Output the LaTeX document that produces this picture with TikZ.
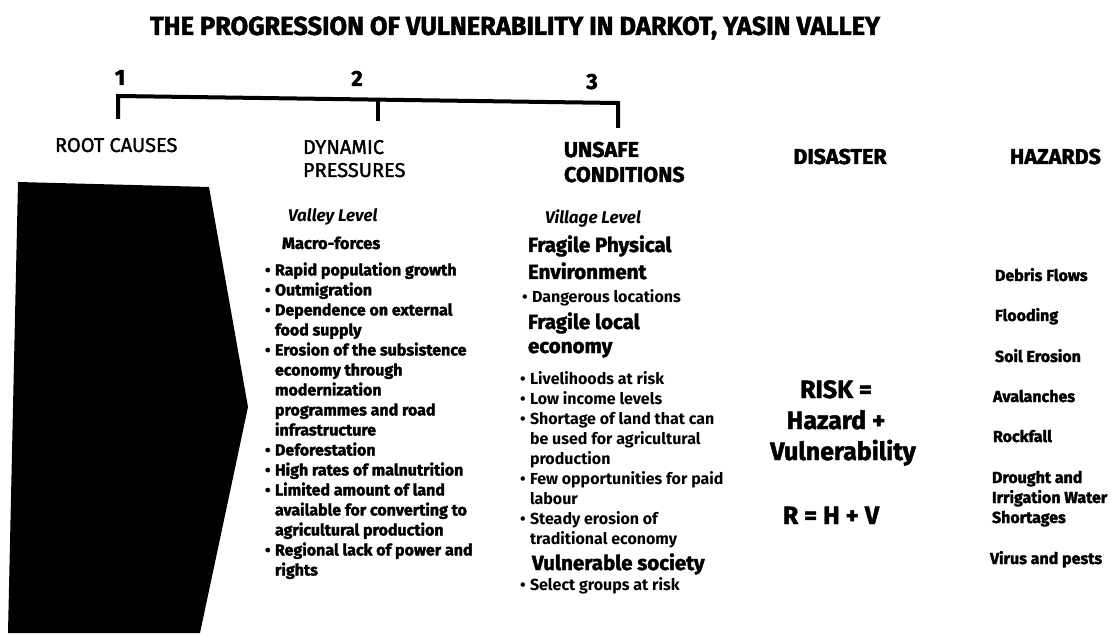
\documentclass[tikz,border=0pt]{standalone}
\usepackage{fontspec}
\usepackage{graphicx}
\setmainfont{Fira Sans}
\newfontfamily\medf{Fira Sans}[FakeBold=1.6]
\newfontfamily\blkf{Fira Sans}[FakeBold=1.8]
\newcommand\Bul{\makebox[10pt][l]{\textbullet}}
\newcommand\Ind{\hspace*{10pt}}
\tikzset{
  every node/.style={inner sep=0pt, outer sep=0pt},
  titletext/.style={font=\blkf\bfseries\fontsize{26}{26}\selectfont},
  digit/.style={font=\blkf\bfseries\fontsize{22}{22}\selectfont, anchor=base},
  bracketline/.style={line width=4pt, line join=miter},
  medhead/.style={font=\medf\fontsize{20}{20}\selectfont, anchor=base west},
  blkhead/.style={font=\blkf\bfseries\fontsize{21.5}{21.5}\selectfont},
  levelhead/.style={font=\bfseries\itshape\fontsize{17}{17}\selectfont, anchor=base west},
  subhead/.style={font=\blkf\bfseries\fontsize{20.5}{20.5}\selectfont, anchor=base west},
  leftitem/.style={font=\blkf\bfseries\fontsize{16}{16}\selectfont, anchor=base west},
  miditem/.style={font=\bfseries\fontsize{16}{16}\selectfont, anchor=base west},
  risktext/.style={font=\blkf\bfseries\fontsize{25}{25}\selectfont, anchor=base},
  hazard/.style={font=\blkf\bfseries\fontsize{16}{16}\selectfont, anchor=base west},
}
\begin{document}
\begin{tikzpicture}[x=1pt,y=-1pt]
\useasboundingbox (0,0) rectangle (1114,636);
\fill[white] (0,0) rectangle (1114,636);

% title
\node[titletext] (title) at (515,28) {\resizebox{730pt}{\height}{THE PROGRESSION OF VULNERABILITY IN DARKOT, YASIN VALLEY}};

% numbers
\node[digit] (n1) at (120,85) {1};
\node[digit] (n2) at (357,86) {2};
\node[digit] (n3) at (592,89) {3};

% bracket
\coordinate (b1t) at (118,96);
\coordinate (b1) at (118,119);
\coordinate (b2t) at (378,99.5);
\coordinate (b2) at (378,121);
\coordinate (b3t) at (618,103);
\coordinate (b3) at (618,128);
\draw[bracketline] (b1) -- (b1t) -- (b3t) -- (b3);
\draw[bracketline] (b2t) -- (b2);

% column heads
\node[medhead] (root) at (55,152) {ROOT CAUSES};
\node[medhead] (dyn1) at (303,154) {DYNAMIC};
\node[medhead] (dyn2) at (303,177) {PRESSURES};
\node[blkhead, anchor=base west] (uns1) at (564,157) {UNSAFE};
\node[blkhead, anchor=base west] (uns2) at (564,182) {CONDITIONS};
\node[blkhead, anchor=base] (dis) at (840,164) {DISASTER};
\node[blkhead, anchor=base west] (haz) at (1010,164) {HAZARDS};

% root causes arrow shape
\fill (18,182) -- (209,187) -- (248,407) -- (200,633) -- (8,633) -- cycle;

% dynamic pressures
\node[levelhead] (valley) at (288,222) {Valley Level};
\node[subhead, font=\blkf\bfseries\fontsize{16.5}{16.5}\selectfont] (macro) at (282,249) {Macro-forces};
\foreach \t [count=\i] in {
  {\Bul Rapid population growth},
  {\Bul Outmigration},
  {\Bul Dependence on external},
  {\Ind food supply},
  {\Bul Erosion of the subsistence},
  {\Ind economy through},
  {\Ind modernization},
  {\Ind programmes and road},
  {\Ind infrastructure},
  {\Bul Deforestation},
  {\Bul High rates of malnutrition},
  {\Bul Limited amount of land},
  {\Ind available for converting to},
  {\Ind agricultural production},
  {\Bul Regional lack of power and},
  {\Ind rights}}
  \node[leftitem] (dp\i) at (265,275.5+20*\i-20) {\t};

% unsafe conditions
\node[levelhead] (village) at (545,224) {Village Level};
\node[subhead] (fpe1) at (528,252) {Fragile Physical};
\node[subhead] (fpe2) at (528,279) {Environment};
\node[miditem] (dang) at (522,303) {\Bul Dangerous locations};
\node[subhead] (fle1) at (528,329) {Fragile local};
\node[subhead] (fle2) at (528,353) {economy};
\foreach \t [count=\i] in {
  {\Bul Livelihoods at risk},
  {\Bul Low income levels},
  {\Bul Shortage of land that can},
  {\Ind be used for agricultural},
  {\Ind production},
  {\Bul Few opportunities for paid},
  {\Ind labour},
  {\Bul Steady erosion of},
  {\Ind traditional economy}}
  \node[miditem] (uc\i) at (520,384.5+20*\i-20) {\t};
\node[subhead] (vul) at (532,570) {Vulnerable society};
\node[miditem] (sel) at (520,590) {\Bul Select groups at risk};

% disaster
\node[risktext] (risk1) at (836,398) {RISK =};
\node[risktext] (risk2) at (836,429) {Hazard +};
\node[risktext] (risk3) at (843,460) {Vulnerability};
\node[risktext] (rhv) at (831,524) {R = H + V};

% hazards
\node[hazard] (h1) at (995,281) {Debris Flows};
\node[hazard] (h2) at (995,321) {Flooding};
\node[hazard] (h3) at (995,362) {Soil Erosion};
\node[hazard] (h4) at (993,402) {Avalanches};
\node[hazard] (h5) at (993,442) {Rockfall};
\node[hazard] (h6) at (992,483) {Drought and};
\node[hazard] (h7) at (992,503) {Irrigation Water};
\node[hazard] (h8) at (992,523) {Shortages};
\node[hazard] (h9) at (990,564) {Virus and pests};
\end{tikzpicture}
\end{document}
